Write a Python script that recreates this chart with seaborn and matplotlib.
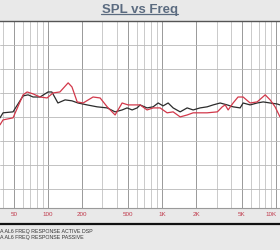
import numpy as np
import pandas as pd
import matplotlib
matplotlib.use("Agg")
import matplotlib.pyplot as plt
import seaborn as sns
from matplotlib.ticker import FixedLocator, NullFormatter
from matplotlib.lines import Line2D

TITLE = "SPL vs Freq"
SERIES = ["A AL6 FREQ RESPONSE ACTIVE DSP", "A AL6 FREQ RESPONSE PASSIVE"]

active_freq = [37.9, 40.3, 49.3, 60.4, 66.8, 73.9, 85.1, 100, 108, 122, 141, 162, 183, 220,
               269, 330, 387, 446, 493, 546, 604, 641, 738, 834, 923, 1020, 1129, 1249,
               1439, 1657, 1870, 2153, 2482, 2800, 3227, 3720, 4190, 4830, 5130, 5910,
               6810, 7690, 8850, 10180, 10800]
active_spl = [59.6, 61.7, 62.1, 68.75, 69.2, 68.3, 68.3, 70.4, 70.4, 65.8, 67.1, 66.7, 65.8, 65.0,
              64.2, 63.75, 62.1, 62.9, 63.75, 62.9, 63.75, 65.0, 63.75, 64.2, 65.8, 64.6, 65.8, 63.75,
              62.1, 63.75, 62.9, 63.75, 64.2, 65.0, 65.8, 65.0, 64.2, 63.75, 65.8, 65.0,
              65.8, 66.25, 65.8, 65.4, 65.0]

passive_freq = [37.9, 40.3, 49.3, 60.4, 65.5, 73.9, 85.1, 98, 110.6, 127, 150, 162, 180, 203,
                248, 286, 330, 387, 446, 503, 641, 738, 834, 960, 1106, 1249, 1439, 1657,
                1870, 2482, 3050, 3367, 3572, 3790, 4190, 4630, 5130, 5910, 6810, 8010,
                8850, 9780, 10800]
passive_spl = [56.7, 58.75, 59.6, 69.2, 70.4, 69.6, 68.3, 67.9, 70.0, 70.4, 74.2, 72.5, 66.25, 65.8,
               68.3, 67.9, 64.2, 60.8, 65.8, 65.0, 65.0, 62.9, 63.75, 63.75, 61.7, 62.1, 60.0, 60.8,
               61.7, 61.7, 62.1, 64.2, 65.0, 62.9, 65.8, 68.3, 68.3, 65.8, 66.25, 69.2,
               67.1, 64.2, 60.0]

major_ticks = [50, 100, 200, 500, 1000, 2000, 5000, 10000]
major_labels = ["50", "100", "200", "500", "1K", "2K", "5K", "10K"]


def main():
    df = pd.concat([
        pd.DataFrame({"freq": active_freq, "spl": active_spl, "series": SERIES[0]}),
        pd.DataFrame({"freq": passive_freq, "spl": passive_spl, "series": SERIES[1]}),
    ])

    sns.set_style("white")
    plt.rcParams["font.family"] = ["Liberation Sans", "DejaVu Sans"]

    fig = plt.figure(figsize=(2.8, 2.5), dpi=100, facecolor="#e9e9e9")
    ax = fig.add_axes([0, 0.168, 1, 0.748])
    ax.set_facecolor("white")

    palette = {SERIES[0]: "#2b2b2b", SERIES[1]: "#d2384a"}
    sns.lineplot(data=df, x="freq", y="spl", hue="series", palette=palette,
                 sort=False, estimator=None, linewidth=0.9, legend=False, ax=ax)

    ax.set_xscale("log")
    ax.set_xlim(37.9, 10800)
    ax.set_ylim(22, 100)

    minor = [m * d for d in (10, 100, 1000) for m in range(1, 10)] + [10000]
    minor = [v for v in minor if v not in major_ticks and 37.9 < v < 10800]
    ax.xaxis.set_major_locator(FixedLocator(major_ticks))
    ax.set_xticklabels(major_labels)
    ax.get_xticklabels()[-1].set_horizontalalignment("right")
    ax.xaxis.set_minor_locator(FixedLocator(minor))
    ax.xaxis.set_minor_formatter(NullFormatter())
    ax.set_yticks(np.arange(30, 101, 10))
    ax.set_yticklabels([])

    ax.grid(which="major", axis="x", color="#999999", linewidth=0.7)
    ax.grid(which="minor", axis="x", color="#c2c2c2", linewidth=0.6)
    ax.grid(which="major", axis="y", color="#b8b8b8", linewidth=0.6)
    ax.tick_params(axis="x", which="both", length=0, labelsize=4.5,
                   labelcolor="#c0394b", pad=3)
    ax.tick_params(axis="y", length=0)
    ax.set_xlabel("")
    ax.set_ylabel("")
    for side in ("left", "right"):
        ax.spines[side].set_visible(False)
    ax.spines["top"].set_color("#555555")
    ax.spines["top"].set_linewidth(1.0)
    ax.spines["bottom"].set_color("#9a9a9a")
    ax.spines["bottom"].set_linewidth(0.8)

    fig.text(0.5, 0.948, TITLE, ha="center", va="baseline", fontsize=9.5,
             fontweight="bold", color="#5b6b80")
    fig.add_artist(Line2D([0.361, 0.637], [0.943, 0.943], color="#5b6b80", linewidth=0.9))

    fig.add_artist(Line2D([0, 1], [0.104, 0.104], color="#111111", linewidth=1.6))
    handles = [Line2D([], [], color=palette[s], linewidth=0) for s in SERIES]
    fig.legend(handles, SERIES, loc="upper left", bbox_to_anchor=(0.0, 0.085),
               frameon=False, handlelength=0, handletextpad=0, fontsize=3.8,
               labelspacing=0.3, labelcolor="#333333", borderaxespad=0, borderpad=0)

    fig.savefig("out.png", dpi=100, facecolor=fig.get_facecolor())
    plt.close(fig)


if __name__ == "__main__":
    main()
